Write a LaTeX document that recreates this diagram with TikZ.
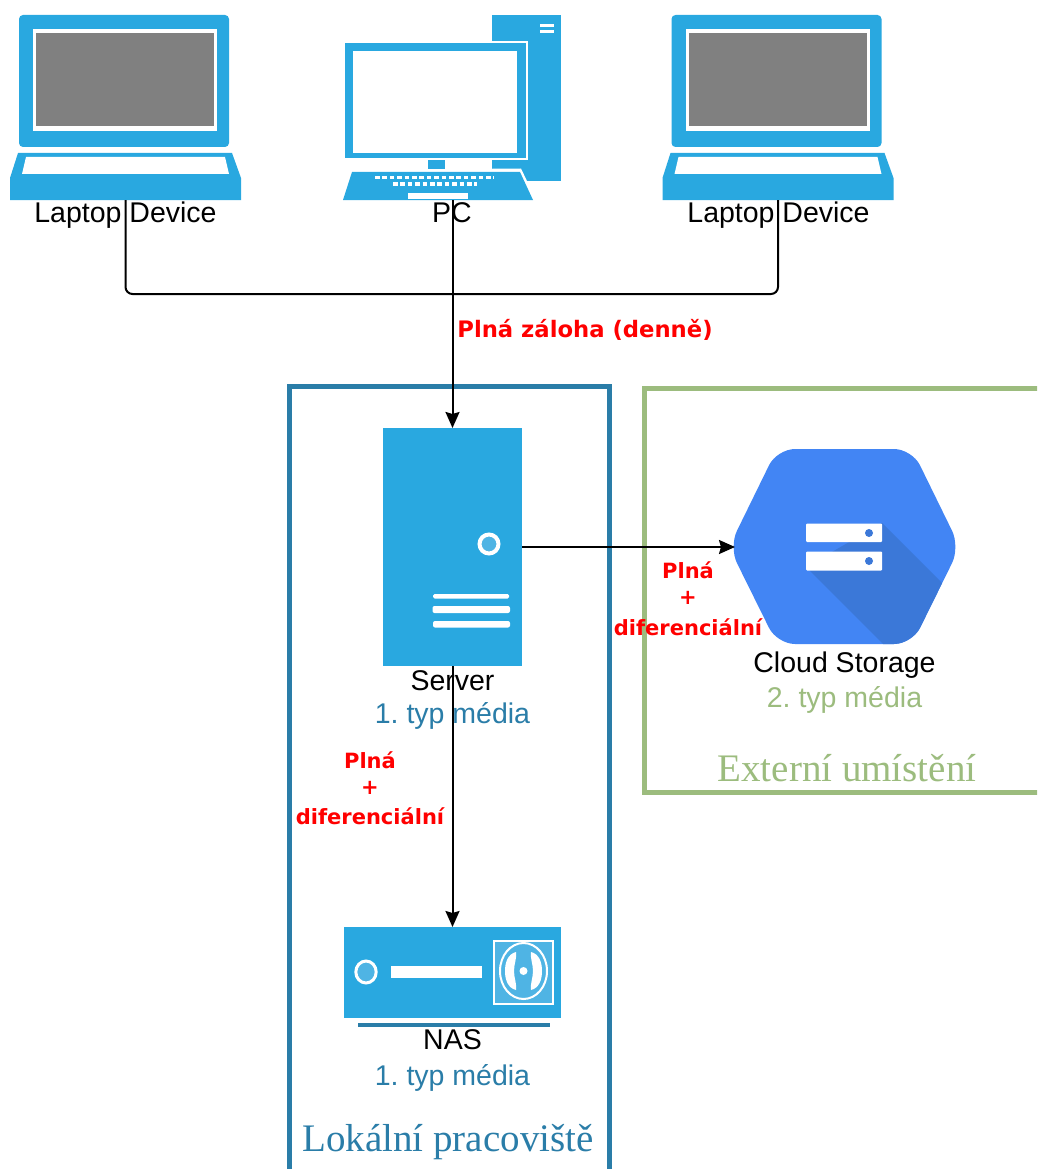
\documentclass[tikz,border=0pt]{standalone}
\usepackage{fontspec}
\setmainfont{Liberation Sans}
\newfontfamily\redfont{DejaVu Sans}
\newfontfamily\seriffont{Liberation Serif}
\usetikzlibrary{arrows.meta}
\frenchspacing
\definecolor{iconblue}{HTML}{29A8E0}
\definecolor{iconlight}{HTML}{4FB4E4}
\definecolor{framegrey}{HTML}{808080}
\definecolor{localblue}{HTML}{2A7DA8}
\definecolor{extgreen}{HTML}{9CBC7E}
\definecolor{cloudblue}{HTML}{4285F4}
\definecolor{cloudshade}{HTML}{3B78D8}
\definecolor{alertred}{HTML}{FF0000}
\tikzset{
  x=1pt,y=-1pt,
  anchorbox/.style={inner sep=0pt,outer sep=0pt,minimum width=#1},
  lab/.style={inner sep=0pt,anchor=base,font=\fontsize{28.5}{30}\selectfont,text=black},
  loclab/.style={inner sep=0pt,anchor=base,font=\fontsize{28.5}{30}\selectfont,text=localblue},
  extlab/.style={inner sep=0pt,anchor=base,font=\fontsize{28.5}{30}\selectfont,text=extgreen},
  redlab/.style={inner sep=0pt,font=\redfont\bfseries\fontsize{21}{23}\selectfont,text=alertred},
  redbig/.style={inner sep=0pt,font=\redfont\bfseries\fontsize{22.7}{24}\selectfont,text=alertred},
  zonelab/.style={inner sep=0pt,font=\seriffont\fontsize{39}{42}\selectfont},
  conn/.style={draw=black,line width=2pt},
  arrowconn/.style={conn,-{Stealth[length=16pt,width=14pt,inset=2pt]}},
  zone/.style={draw,line width=5pt,fill=none,inner sep=0pt}
}
\newcommand{\laptopicon}[1]{%
  \begin{scope}[xshift=#1]
    \fill[iconblue,rounded corners=4pt] (19,15) rectangle (229,147);
    \fill[white] (33,29) rectangle (217,131);
    \fill[framegrey] (36,33) rectangle (214,126);
    \fill[iconblue] (18,153) -- (232,153) -- (241,178) -- (241,200) -- (10,200) -- (10,178) -- cycle;
    \fill[white] (26,157) -- (225,157) -- (229,174) -- (22,174) -- cycle;
  \end{scope}}
\begin{document}
\begin{tikzpicture}
\useasboundingbox (0,0) rectangle (1037,1169);
\fill[white] (0,0) rectangle (1037,1169);
\clip (0,0) rectangle (1037,1169);

% zones
\node[zone,draw=localblue,minimum width=320pt,minimum height=800pt] (localzone) at (449,786) {};
\node[zone,draw=extgreen,minimum width=440pt,minimum height=404pt] (extzone) at (864,590) {};

% laptops
\laptopicon{0pt}
\laptopicon{652.5pt}
\node[anchorbox=231pt,minimum height=185pt] (lapa) at (125.5,107.5) {};
\node[anchorbox=231pt,minimum height=185pt] (lapb) at (778,107.5) {};

% PC
\fill[iconblue] (492,15) rectangle (561,181);
\fill[white] (540,24) rectangle (554,27);
\fill[white] (540,30.5) rectangle (554,33.5);
\fill[white] (343,41) rectangle (528,160);
\fill[iconblue] (345,43) rectangle (526,158);
\fill[white] (353,51) rectangle (517,153);
\fill[iconblue] (428,160.5) rectangle (445,169);
\fill[iconblue] (492,160.5) rectangle (561,181);
\fill[white] (350,170) -- (521,168.5) -- (537,202) -- (341,202) -- cycle;
\fill[iconblue] (352,172) -- (520,172) -- (533,200) -- (343,200) -- cycle;
\fill[white] (408,193) rectangle (468,199);
\draw[white,line width=3.4pt,dash pattern=on 4.6pt off 2.8pt] (375,177.5) -- (494,177.5);
\draw[white,line width=3.4pt,dash pattern=on 4.6pt off 2.8pt] (393,184) -- (477,184);
\node[anchorbox=218pt,minimum height=185pt] (pc) at (452.5,107.5) {};

% server
\node[fill=iconblue,inner sep=0pt,outer sep=0pt,minimum width=139pt,minimum height=238pt] (server) at (452.5,547) {};
\draw[white,line width=4pt,fill=iconlight] (489,544) circle (9.5);
\fill[white,rounded corners=1.5pt] (433,594) rectangle (509,598.5);
\fill[white,rounded corners=2pt] (432.5,606) rectangle (510,613);
\fill[white,rounded corners=2pt] (433,621) rectangle (510,627.5);

% NAS
\node[fill=iconblue,inner sep=0pt,outer sep=0pt,minimum width=217pt,minimum height=91pt] (nas) at (452.5,972.5) {};
\draw[white,line width=3pt,fill=iconlight] (366,972) ellipse (10.2 and 11);
\fill[white] (391,966) rectangle (482,978);
\draw[white,line width=2pt,fill=iconlight] (494,940.5) rectangle (553,1004);
\draw[white,line width=2pt] (523.5,971) ellipse (23.5 and 28);
\fill[white] (516,952) .. controls (517,958) and (514,964) .. (514,971) .. controls (514,978) and (517,984) .. (516,990) .. controls (508,988) and (505,980) .. (505,971) .. controls (505,962) and (508,954) .. (516,952) -- cycle;
\fill[white] (531,952) .. controls (530,958) and (533,964) .. (533,971) .. controls (533,978) and (530,984) .. (531,990) .. controls (539,988) and (542,980) .. (542,971) .. controls (542,962) and (539,954) .. (531,952) -- cycle;
\fill[white] (523.5,971) circle (4);
\fill[localblue] (358,1023) rectangle (550,1027);

% cloud
\begin{scope}
  \clip[rounded corners=18pt] (729,547) -- (777,449) -- (912,449) -- (960,547) -- (912,644) -- (777,644) -- cycle;
  \fill[cloudblue] (720,440) rectangle (970,650);
  \fill[cloudshade] (882,523) -- (970,611) -- (970,650) -- (889,650) -- (806,567) -- cycle;
\end{scope}
\node[anchorbox=219pt,minimum height=195pt] (cloud) at (844.5,547) {};
\fill[white,rounded corners=1pt] (806,523.5) rectangle (882,542);
\fill[white,rounded corners=1pt] (806,551.5) rectangle (882,570.5);
\fill[cloudshade] (869,533) circle (4);
\fill[cloudshade] (869,561) circle (4);

% labels
\node[lab] (lapalab) at (125.5,222.7) {Laptop Device};
\node[lab] (pclab) at (452,222.7) {PC};
\node[lab] (lapblab) at (778.5,222.7) {Laptop Device};
\node[lab] (serverlab) at (452.5,690) {Server};
\node[loclab] (serverkind) at (452.5,723.5) {1. typ média};
\node[lab] (naslab) at (452.5,1049.5) {NAS};
\node[loclab] (naskind) at (452.5,1085) {1. typ média};
\node[lab] (cloudlab) at (844.5,672) {Cloud Storage};
\node[extlab] (cloudkind) at (844.5,707.7) {2. typ média};
\node[zonelab,text=extgreen] (extname) at (847,768) {Externí umístění};
\node[zonelab,text=localblue] (localname) at (448,1142) {Lokální pracoviště};
\node[redbig] (daily) at (585,330) {Plná záloha (denně)};
\node[redlab] (c1) at (688,570.5) {Plná};
\node[redlab] (c2) at (688,598) {+};
\node[redlab] (c3) at (688,627.5) {diferenciální};
\node[redlab] (n1) at (370,760.5) {Plná};
\node[redlab] (n2) at (370,788) {+};
\node[redlab] (n3) at (370,816.5) {diferenciální};

% connectors
\coordinate (bus) at (452.5,294);
\draw[conn,rounded corners=7pt] (lapa.south) |- (bus) -| (lapb.south);
\draw[arrowconn] (pc.south) -- (server.north);
\draw[arrowconn] (server.east) -- (cloud.west);
\draw[arrowconn] (server.south) -- (nas.north);
\end{tikzpicture}
\end{document}
